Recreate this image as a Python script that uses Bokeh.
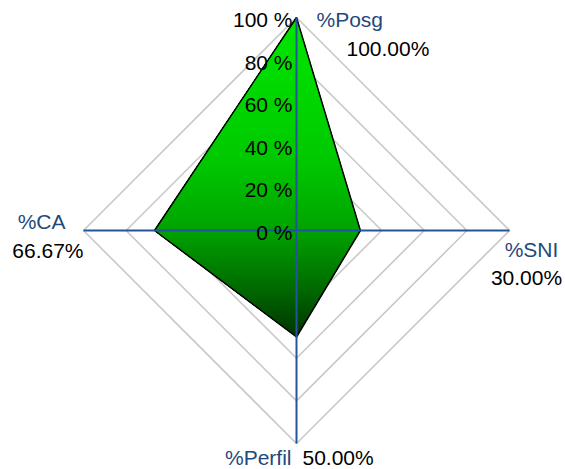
import math
from bokeh.plotting import figure
from bokeh.models import Range1d
from bokeh.core.properties import value
from bokeh.embed import file_html
from bokeh.resources import INLINE

# ---- data ----
categories = ["%Posg", "%SNI", "%Perfil", "%CA"]
values = [100.0, 30.0, 50.0, 66.67]
value_labels = ["100.00%", "30.00%", "50.00%", "66.67%"]
angles_deg = [90, 0, -90, 180]
tick_values = [0, 20, 40, 60, 80, 100]
tick_labels = ["0 %", "20 %", "40 %", "60 %", "80 %", "100 %"]
grid_levels = [20, 40, 60, 80, 100]

# ---- layout ----
W, H = 565, 469
CX, CY = 296, 230      # centre in figure pixels (from top-left)
S = 2.13               # pixels per unit
PX = 1.0 / S

p = figure(width=W, height=H, output_backend="svg", toolbar_location=None,
           x_range=Range1d(-CX / S, (W - CX) / S),
           y_range=Range1d(-(H - CY) / S, CY / S),
           min_border=0)
p.axis.visible = False
p.grid.visible = False
p.outline_line_color = None
p.background_fill_color = "white"
p.border_fill_color = "white"

rad = [math.radians(a) for a in angles_deg]

def pt(r, a):
    return r * math.cos(a), r * math.sin(a)

# grid diamonds
gx, gy = [], []
for lv in grid_levels:
    xs = [pt(lv, a)[0] for a in rad] + [pt(lv, rad[0])[0]]
    ys = [pt(lv, a)[1] for a in rad] + [pt(lv, rad[0])[1]]
    gx.append(xs)
    gy.append(ys)
p.multi_line(gx, gy, line_color="#c9c9c9", line_width=1.6)

# polygon
poly = [pt(v, a) for v, a in zip(values, rad)]

def clip_above(polygon, yv):
    out = []
    n = len(polygon)
    for i in range(n):
        cur = polygon[i]
        prev = polygon[i - 1]
        cin = cur[1] >= yv
        pin = prev[1] >= yv
        if cin:
            if not pin:
                t = (yv - prev[1]) / (cur[1] - prev[1])
                out.append((prev[0] + t * (cur[0] - prev[0]), yv))
            out.append(cur)
        elif pin:
            t = (yv - prev[1]) / (cur[1] - prev[1])
            out.append((prev[0] + t * (cur[0] - prev[0]), yv))
    return out

stops = [(0.0, (0, 232, 0)), (0.45, (0, 200, 0)), (0.67, (0, 162, 0)),
         (0.85, (0, 105, 0)), (1.0, (0, 52, 0))]

def grad(f):
    for (f0, c0), (f1, c1) in zip(stops[:-1], stops[1:]):
        if f0 <= f <= f1:
            t = (f - f0) / (f1 - f0) if f1 > f0 else 0
            c = tuple(int(round(c0[k] + t * (c1[k] - c0[k]))) for k in range(3))
            return "#%02x%02x%02x" % c
    return "#%02x%02x%02x" % stops[-1][1]

ytop = max(q[1] for q in poly)
ybot = min(q[1] for q in poly)
N = 150
bx, by, bc = [], [], []
# draw from the bottom up: each region covers everything above its lower edge
for i in range(N, 0, -1):
    y0 = ytop - (ytop - ybot) * i / N
    region = clip_above(poly, y0 - 1e-9)
    if len(region) >= 3:
        bx.append([q[0] for q in region])
        by.append([q[1] for q in region])
        bc.append(grad((i - 0.5) / N))
p.patches(bx, by, fill_color=bc, line_color=None)

p.patch([q[0] for q in poly], [q[1] for q in poly], fill_color=None,
        line_color="black", line_width=1.5)

# axis lines
axis_color = "#22559e"
for a in rad:
    ex, ey = pt(100, a)
    p.line([0, ex], [0, ey], line_color=axis_color, line_width=2)

FONT = value("Liberation Sans")
FS = "21px"

# tick labels on vertical axis
p.text(x=[-4 * PX] * len(tick_values), y=[t - 2 * PX for t in tick_values],
       text=tick_labels, text_font=FONT, text_font_size=FS, text_color="black",
       text_align="right", text_baseline="middle")

# category / value labels: offsets (px, screen x right, y down) from axis end
name_off = [(20, 2, "left"), (22, 19, "center"), (-5, 14, "right"), (-18, -9, "right")]
val_off = [(50, 31, "left"), (17, 47, "center"), (6, 14, "left"), (0, 20, "right")]

for cat, vl, a, no, vo in zip(categories, value_labels, rad, name_off, val_off):
    ex, ey = pt(100, a)
    p.text(x=[ex + no[0] * PX], y=[ey - no[1] * PX], text=[cat], text_font=FONT,
           text_font_size=FS, text_color="#1f497d", text_align=no[2],
           text_baseline="middle")
    p.text(x=[ex + vo[0] * PX], y=[ey - vo[1] * PX], text=[vl], text_font=FONT,
           text_font_size=FS, text_color="black", text_align=vo[2],
           text_baseline="middle")

open("out.html", "w").write(file_html(p, INLINE))
